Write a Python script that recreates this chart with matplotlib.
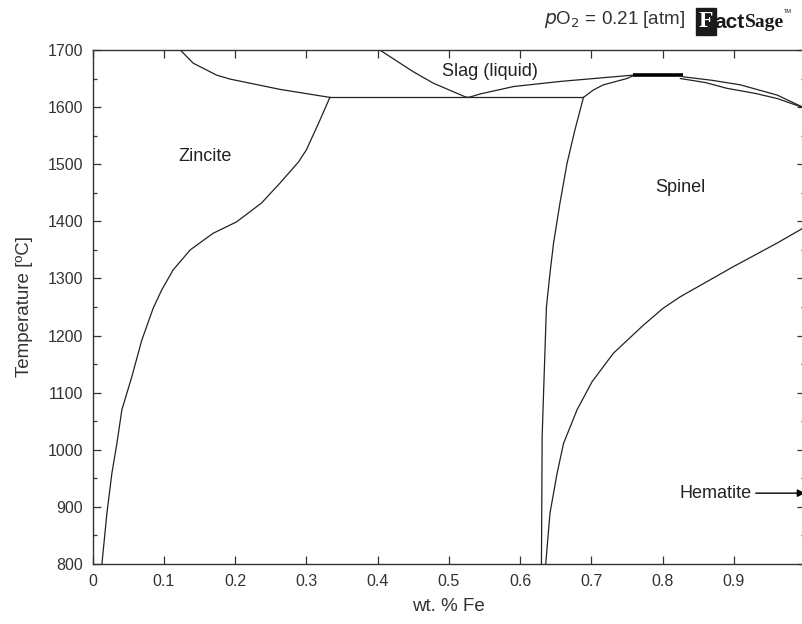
import matplotlib
matplotlib.use("Agg")
import matplotlib.pyplot as plt
from matplotlib.ticker import MultipleLocator, FuncFormatter
from matplotlib.transforms import offset_copy
import numpy as np

plt.rcParams['font.family'] = ['Liberation Sans', 'DejaVu Sans']

# phase boundaries, wt. fraction Fe vs T [C]
zincite_liq_x = [0.123, 0.141, 0.174, 0.193, 0.263, 0.333]
zincite_liq_t = [1700, 1677, 1656, 1649, 1631, 1617]

zincite_solvus_x = [0.333, 0.319, 0.300, 0.289, 0.263, 0.237, 0.202, 0.169, 0.137, 0.113,
                    0.097, 0.085, 0.069, 0.055, 0.041, 0.034, 0.027, 0.020, 0.013]
zincite_solvus_t = [1617, 1577, 1525, 1504, 1467, 1432, 1399, 1379, 1350, 1315,
                    1280, 1248, 1192, 1128, 1070, 1011, 959, 889, 800]

eutectic_x = [0.333, 0.689]
eutectic_t = [1617, 1617]

slag_left_x = [0.403, 0.450, 0.478, 0.523, 0.528]
slag_left_t = [1700, 1662, 1642, 1618, 1617]

slag_right_x = [0.528, 0.544, 0.591, 0.657, 0.731, 0.759]
slag_right_t = [1617, 1623, 1636, 1645, 1653, 1656]

liq_top_x = [0.829, 0.869, 0.909, 0.961, 1.0]
liq_top_t = [1653, 1647, 1639, 1621, 1598]

spinel_liq_x = [0.689, 0.703, 0.717, 0.750, 0.759]
spinel_liq_t = [1617, 1630, 1639, 1650, 1655]

spinel_sol_x = [0.825, 0.860, 0.890, 0.930, 0.961, 1.0]
spinel_sol_t = [1650, 1643, 1633, 1624, 1615, 1598]

narrow_x = [0.759, 0.829]
narrow_t = [1655.5, 1655.5]

spinel_solvus_x = [0.689, 0.677, 0.666, 0.656, 0.647, 0.642, 0.637, 0.635, 0.633, 0.631, 0.630]
spinel_solvus_t = [1617, 1560, 1502, 1432, 1362, 1309, 1250, 1175, 1100, 1023, 800]

hematite_x = [0.636, 0.642, 0.652, 0.661, 0.680, 0.701, 0.731, 0.773, 0.801, 0.825, 0.900, 0.961, 1.0]
hematite_t = [800, 889, 959, 1011, 1070, 1119, 1169, 1218, 1248, 1268, 1321, 1362, 1390]

fig = plt.figure(figsize=(8.03, 6.24), dpi=100)
ax = fig.add_axes([0.1154, 0.0962, 0.8871, 0.8237])

lc = '#222222'
lw = 0.9
for xs, ts in [(zincite_liq_x, zincite_liq_t), (zincite_solvus_x, zincite_solvus_t),
               (eutectic_x, eutectic_t), (slag_left_x, slag_left_t),
               (slag_right_x, slag_right_t), (liq_top_x, liq_top_t),
               (spinel_liq_x, spinel_liq_t), (spinel_sol_x, spinel_sol_t),
               (spinel_solvus_x, spinel_solvus_t), (hematite_x, hematite_t)]:
    ax.plot(xs, ts, color=lc, lw=lw)
ax.plot(narrow_x, narrow_t, color='black', lw=2.6, solid_capstyle='butt')

ax.set_xlim(0, 1)
ax.set_ylim(800, 1700)
ax.xaxis.set_major_locator(MultipleLocator(0.1))
ax.yaxis.set_major_locator(MultipleLocator(100))
ax.yaxis.set_minor_locator(MultipleLocator(50))
ax.xaxis.set_major_formatter(FuncFormatter(lambda v, p: '%g' % round(v, 1)))
ax.tick_params(which='both', direction='in', top=True, right=True,
               labelsize=11.5, colors='#333333', width=0.9)
ax.tick_params(which='major', length=6, pad=7)
ax.tick_params(which='minor', length=3)
for s in ax.spines.values():
    s.set_color('#333333')
    s.set_linewidth(1.0)

ax.set_xlabel('wt. % Fe', fontsize=13.5, color='#333333', labelpad=7)
ax.set_ylabel('Temperature [ºC]', fontsize=13.5, color='#333333', labelpad=10)

tc = '#222222'
fs = 13
ax.text(0.158, 1513, 'Zincite', fontsize=fs, color=tc, ha='center', va='center')
ax.text(0.558, 1663, 'Slag (liquid)', fontsize=fs, color=tc, ha='center', va='center')
ax.text(0.825, 1460, 'Spinel', fontsize=fs, color=tc, ha='center', va='center')
ax.annotate('Hematite', xy=(1.0, 924), xytext=(0.925, 924), fontsize=fs, color=tc,
            ha='right', va='center',
            arrowprops=dict(arrowstyle='-|>', color='black', lw=1.0,
                            shrinkA=1, shrinkB=0, mutation_scale=11))

fig.text(0.853, 0.968, r'$p$O$_2$ = 0.21 [atm]', fontsize=13.5, color='#333333',
         ha='right', va='center')

# logo: black tab with white F, then "act" and "Sage" set right after it
r = fig.canvas.get_renderer()
t1 = fig.text(0.870, 0.966, 'F', fontsize=17, fontweight='bold', color='white',
              ha='left', va='center', family='Liberation Serif',
              bbox=dict(boxstyle='square,pad=0.12', fc='#1a1a1a', ec='#1a1a1a'))
x1 = t1.get_window_extent(r).x1
t2 = fig.text(x1 / fig.bbox.width + 0.001, 0.964, 'act', fontsize=15, fontweight='bold',
              color='#1a1a1a', ha='left', va='center', family='Liberation Sans')
x2 = t2.get_window_extent(r).x1
t3 = fig.text(x2 / fig.bbox.width + 0.001, 0.964, 'Sage', fontsize=14,
              color='#1a1a1a', ha='left', va='center', family='Liberation Serif',
              fontweight='bold')
x3 = t3.get_window_extent(r).x1
fig.text(x3 / fig.bbox.width, 0.982, 'TM', fontsize=4, color='#1a1a1a',
         ha='left', va='center')

fig.savefig('out.png', dpi=100)
